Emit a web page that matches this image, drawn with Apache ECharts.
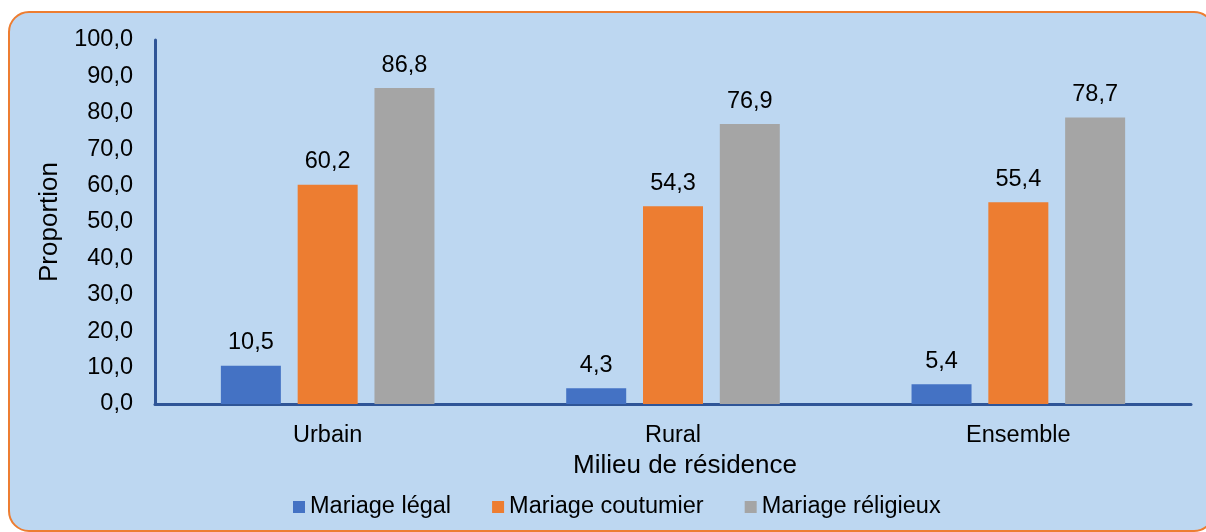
<!DOCTYPE html>
<html>
<head>
<meta charset="utf-8">
<script src="https://cdn.jsdelivr.net/npm/echarts@6/dist/echarts.min.js"></script>
<style>
  html, body { margin: 0; padding: 0; background: #fff; }
  #chart { width: 1206px; height: 532px; }
</style>
</head>
<body>
<div id="chart"></div>
<script>
// data
const categories = ["Urbain", "Rural", "Ensemble"];
const seriesNames = ["Mariage légal", "Mariage coutumier", "Mariage réligieux"];
const legalValues = [10.5, 4.3, 5.4];
const coutumierValues = [60.2, 54.3, 55.4];
const religieuxValues = [86.8, 76.9, 78.7];
const colors = ["#4472C4", "#ED7D31", "#A5A5A5"];

const fmt = v => v.toFixed(1).replace(".", ",");
const font = "Liberation Sans, Arial, sans-serif";
const labelSize = 23.5;

const chart = echarts.init(document.getElementById("chart"));

const makeSeries = (name, data, color) => ({
	name: name,
	type: "bar",
	data: data,
	barWidth: 60,
	barGap: "28%",
	itemStyle: { color: color },
	label: {
		show: true,
		position: "top",
		distance: 11,
		color: "#000",
		fontFamily: font,
		fontSize: labelSize,
		formatter: p => fmt(p.value)
	}
});

chart.setOption({
	animation: false,
	textStyle: { fontFamily: font },
	graphic: [
		{
			type: "rect",
			z: -10,
			shape: { x: 9, y: 12, width: 1205, height: 519, r: 20 },
			style: { fill: "#BDD7F1", stroke: "#ED7D31", lineWidth: 2 }
		}
	],
	grid: { left: 155, right: 15, top: 40, bottom: 128 },
	legend: {
		data: seriesNames,
		left: 288,
		top: 490,
		itemWidth: 12,
		itemHeight: 12,
		itemGap: 41,
		icon: "rect",
		textStyle: { fontSize: labelSize, color: "#000", fontFamily: font }
	},
	xAxis: {
		type: "category",
		data: categories,
		name: "Milieu de résidence",
		nameLocation: "middle",
		nameGap: 47,
		nameTextStyle: { fontSize: 26, color: "#000", fontFamily: font, padding: [0, 0, 0, 24] },
		axisLine: { lineStyle: { color: "#2F5597", width: 3 } },
		axisTick: { show: false },
		axisLabel: { fontSize: labelSize, color: "#000", margin: 20, fontFamily: font }
	},
	yAxis: {
		type: "value",
		min: 0,
		max: 100,
		interval: 10,
		name: "Proportion",
		nameLocation: "middle",
		nameGap: 86,
		nameTextStyle: { fontSize: 26, color: "#000", fontFamily: font },
		axisLine: { show: true, lineStyle: { color: "#2F5597", width: 3 } },
		axisTick: { show: false },
		splitLine: { show: false },
		axisLabel: { fontSize: labelSize, color: "#000", margin: 22, fontFamily: font, formatter: v => fmt(v) }
	},
	series: [
		makeSeries(seriesNames[0], legalValues, colors[0]),
		makeSeries(seriesNames[1], coutumierValues, colors[1]),
		makeSeries(seriesNames[2], religieuxValues, colors[2])
	]
});
</script>
</body>
</html>
